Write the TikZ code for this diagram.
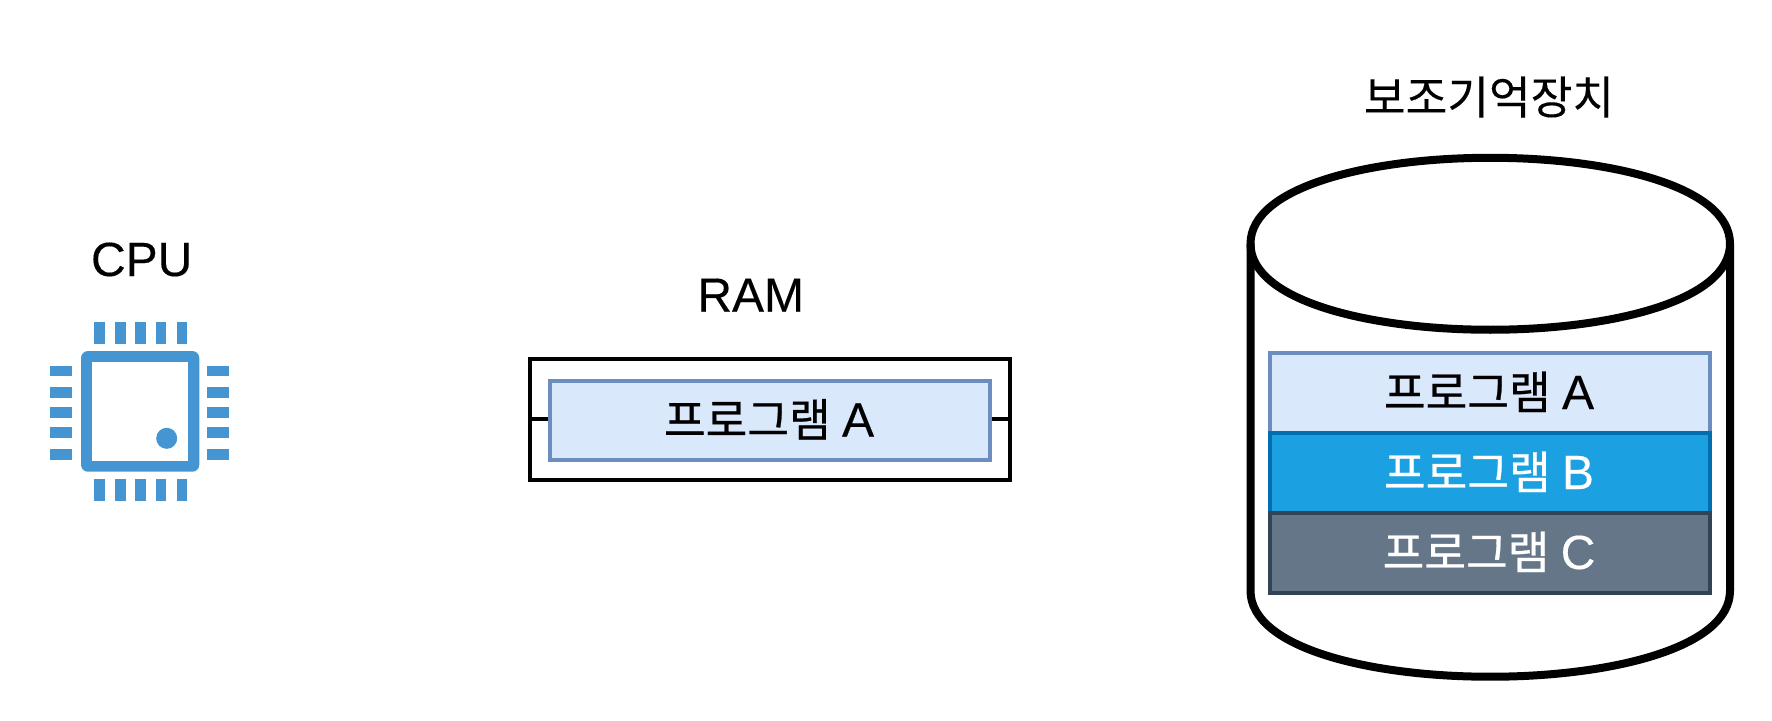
\documentclass[tikz,border=0pt]{standalone}
\usepackage{fontspec}
\setmainfont[FakeBold=0.25]{Liberation Sans}
\newfontfamily\krfont[Scale=0.944,FakeBold=0.6]{Noto Sans CJK KR}
\newfontfamily\krtitle[Scale=0.944,FakeBold=0.2]{Noto Sans CJK KR}
\definecolor{chipblue}{HTML}{4495D1}
\definecolor{lightfill}{HTML}{DAE8FC}
\definecolor{lightline}{HTML}{6C8EBF}
\definecolor{bluefill}{HTML}{1BA1E2}
\definecolor{blueline}{HTML}{006EAF}
\definecolor{greyfill}{HTML}{647687}
\definecolor{greyline}{HTML}{314354}
\tikzset{
  lbl/.style={inner sep=0pt,outer sep=0pt,anchor=base,font=\fontsize{24pt}{28pt}\selectfont},
  progbox/.style={draw,line width=2pt,inner sep=0pt,outer sep=0pt,minimum width=#1,minimum height=40pt,
    text height=16pt,text depth=0pt,font=\fontsize{24pt}{28pt}\selectfont},
  chippin/.style={fill=chipblue,draw=none},
  ramframe/.style={draw=black,line width=2pt,inner sep=0pt,outer sep=0pt,minimum width=240pt,minimum height=60.75pt},
  wire/.style={draw=black,line width=2pt},
  drum/.style={draw=black,line width=4pt,line join=round}
}
\begin{document}
\begin{tikzpicture}[x=0.5pt,y=-0.5pt]
\useasboundingbox (0,0) rectangle (1772,720);
\fill[white] (0,0) rectangle (1772,720);
% CPU
\node[lbl] (cpulabel) at (141.7,276) {CPU};
\node[fill=chipblue,rounded corners=3.5pt,inner sep=0pt,outer sep=0pt,minimum width=59.15pt,minimum height=60.35pt] (chip) at (140.15,411.35) {};
\node[fill=white,inner sep=0pt,outer sep=0pt,minimum width=48pt,minimum height=49.35pt] (chipcore) at (140,411.35) {};
\fill[chipblue] (166.7,438.3) circle[radius=10.5];
\foreach \x in {94,115,135,155.5,176.5}{
  \fill[chippin] (\x,322) rectangle ++(10.7,21.6);
  \fill[chippin] (\x,479.3) rectangle ++(10.7,21.6);
}
\foreach \y in {365.7,387,407,427.4,449}{
  \fill[chippin] (50,\y) rectangle ++(22,10.7);
  \fill[chippin] (207,\y) rectangle ++(22,10.7);
}
% RAM
\node[lbl] (ramlabel) at (750.7,311.7) {RAM};
\node[ramframe] (ram) at (770,419.25) {};
\draw[wire] (ram.west) -- (ram.east);
\node[progbox=220pt,draw=lightline,fill=lightfill,minimum height=39.5pt] (prog) at (770,420.5) {\hspace*{-1pt}{\krfont 프로그램}\kern-1pt{} A};
% storage
\node[lbl,font=\fontsize{24pt}{28pt}\selectfont\krtitle] (storelabel) at (1489,114) {보조기억장치};
\coordinate (tl) at (1250.5,243.75);
\coordinate (tr) at (1730,243.75);
\coordinate (bl) at (1250.5,590.7);
\coordinate (br) at (1730,590.7);
\draw[drum,fill=white] (tl) .. controls (1250.5,129.1) and (1730,129.1) .. (tr) -- (br)
  .. controls (1730,705.4) and (1250.5,705.4) .. (bl) -- cycle;
\draw[drum] (tl) .. controls (1250.5,358.4) and (1730,358.4) .. (tr);
\node[progbox=220pt,draw=lightline,fill=lightfill] (pa) at (1490,393) {\hspace*{-1pt}{\krfont 프로그램}\kern-1pt{} A};
\node[progbox=220pt,draw=blueline,fill=bluefill,text=white] (pb) at (1490,473) {\hspace*{-1pt}{\krfont 프로그램}\kern-1pt{} B};
\node[progbox=220pt,draw=greyline,fill=greyfill,text=white] (pc) at (1490,553) {\hspace*{-1pt}{\krfont 프로그램}\kern-1pt{} C};
\end{tikzpicture}
\end{document}
